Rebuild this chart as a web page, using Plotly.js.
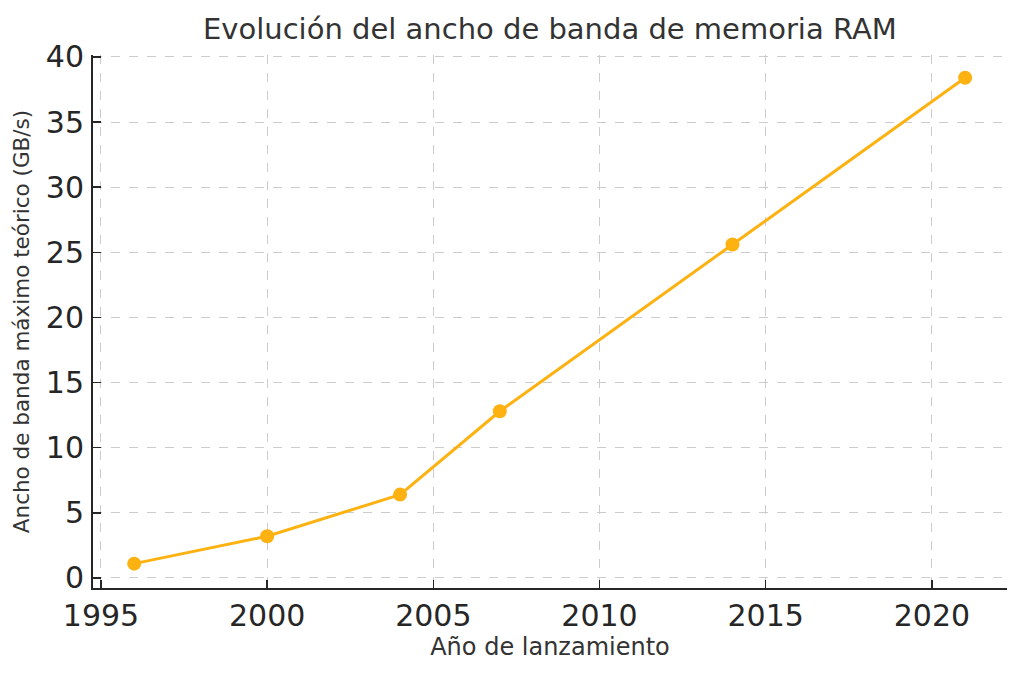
<!DOCTYPE html>
<html>
<head>
<meta charset="utf-8">
<script src="https://cdn.plot.ly/plotly-3.0.1.min.js"></script>
<style>html,body{margin:0;padding:0;background:#fff;}#chart{width:1024px;height:677px;}</style>
</head>
<body>
<div id="chart"></div>
<script>
const years = [1996, 2000, 2004, 2007, 2014, 2021];
const bandwidth = [1.1, 3.2, 6.4, 12.8, 25.6, 38.4];
const xTicks = [1995, 2000, 2005, 2010, 2015, 2020];
const yTicks = [0, 5, 10, 15, 20, 25, 30, 35, 40];
const titleText = "Evolución del ancho de banda de memoria RAM";
const xTitle = "Año de lanzamiento";
const yTitle = "Ancho de banda máximo teórico (GB/s)";

const font = "DejaVu Sans, sans-serif";
const trace = {
  x: years, y: bandwidth, type: "scatter", mode: "lines+markers",
  line: {color: "#FDB212", width: 3},
  marker: {color: "#FDB212", size: 14},
  hoverinfo: "skip"
};
const layout = {
  width: 1024, height: 677,
  margin: {l: 93, r: 17, t: 55, b: 89, pad: 0},
  paper_bgcolor: "#fff", plot_bgcolor: "#fff",
  showlegend: false,
  font: {family: font, color: "#262626"},
  title: {text: titleText, font: {family: font, size: 29, color: "#333"}, x: 0.537, xanchor: "center", y: 0.972, yanchor: "top"},
  xaxis: {
    range: [1994.76, 2022.26], tickvals: xTicks, ticktext: xTicks.map(String),
    showline: true, linecolor: "#262626", linewidth: 2,
    ticks: "inside", ticklen: 8, tickwidth: 1.5, tickcolor: "#262626",
    showgrid: true, gridcolor: "#cccccc", griddash: "dash", gridwidth: 1,
    zeroline: false, tickfont: {family: font, size: 30, color: "#262626"},
    ticklabelstandoff: 0,
    title: {text: xTitle, font: {family: font, size: 24, color: "#333"}, standoff: 6}
  },
  yaxis: {
    range: [-0.77, 40.15], tickvals: yTicks, ticktext: yTicks.map(String),
    showline: true, linecolor: "#262626", linewidth: 2,
    ticks: "inside", ticklen: 8, tickwidth: 1.5, tickcolor: "#262626",
    showgrid: true, gridcolor: "#cccccc", griddash: "dash", gridwidth: 1,
    zeroline: false, tickfont: {family: font, size: 30, color: "#262626"},
    ticklabelstandoff: 1,
    title: {text: yTitle, font: {family: font, size: 21.5, color: "#333"}, standoff: 10}
  }
};
Plotly.newPlot("chart", [trace], layout, {staticPlot: true, displayModeBar: false});
</script>
</body>
</html>
